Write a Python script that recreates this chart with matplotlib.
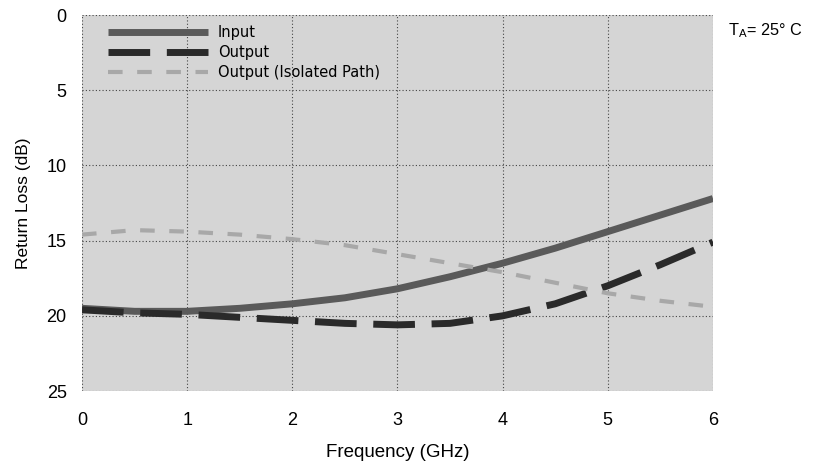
import numpy as np
import matplotlib
matplotlib.use("Agg")
from matplotlib import pyplot as plt

# values (return loss in dB, plotted downward)
freq = [0, 0.5, 1, 1.5, 2, 2.5, 3, 3.5, 4, 4.5, 5, 5.5, 6]
input_rl = [19.5, 19.7, 19.7, 19.5, 19.2, 18.8, 18.2, 17.4, 16.5, 15.5, 14.4, 13.3, 12.2]
output_rl = [19.6, 19.8, 19.9, 20.1, 20.3, 20.5, 20.6, 20.5, 20.0, 19.2, 18.0, 16.6, 15.1]
isolated_rl = [14.6, 14.3, 14.4, 14.6, 14.9, 15.3, 15.9, 16.5, 17.1, 17.8, 18.5, 19.0, 19.4]

x_ticks = [0, 1, 2, 3, 4, 5, 6]
y_ticks = [0, 5, 10, 15, 20, 25]

fig = plt.figure(figsize=(8.15, 4.7), dpi=100)
ax = fig.add_axes([0.1006, 0.168, 0.7742, 0.8])
ax.set_facecolor("#d5d5d5")

ax.plot(freq, input_rl, color="#5a5a5a", lw=5, solid_capstyle="butt", label="Input")
ax.plot(freq, output_rl, color="#2a2a2a", lw=5, dashes=(6, 2.4), label="Output")
ax.plot(freq, isolated_rl, color="#a8a8a8", lw=3, dashes=(3.5, 3.5), label="Output (Isolated Path)")

ax.set_xlim(0, 6)
ax.set_ylim(25, 0)
ax.set_xticks(x_ticks)
ax.set_yticks(y_ticks)
ax.tick_params(length=0, labelsize=13)
ax.tick_params(axis="x", pad=15)
ax.tick_params(axis="y", pad=11)
for lab in ax.get_xticklabels() + ax.get_yticklabels():
    lab.set_family("Liberation Sans")
for s in ax.spines.values():
    s.set_visible(False)
ax.grid(True, color="#444444", linestyle=(0, (1, 2)), lw=0.8)
ax.set_axisbelow(True)

ax.set_xlabel("Frequency (GHz)", family="Liberation Sans", fontsize=13.5, labelpad=11)
ax.set_ylabel("Return Loss (dB)", family="Liberation Sans", fontsize=12.5, labelpad=11)

leg = ax.legend(loc="upper left", bbox_to_anchor=(0.025, 1.0), frameon=False, borderaxespad=0.3,
                handlelength=6.85, fontsize=10.5, labelspacing=0.35, handletextpad=0.7)

fig.text(0.893, 0.925, r"T$_\mathregular{A}$= 25° C", family="Liberation Sans", fontsize=11.7)

fig.savefig("out.png", dpi=100)
